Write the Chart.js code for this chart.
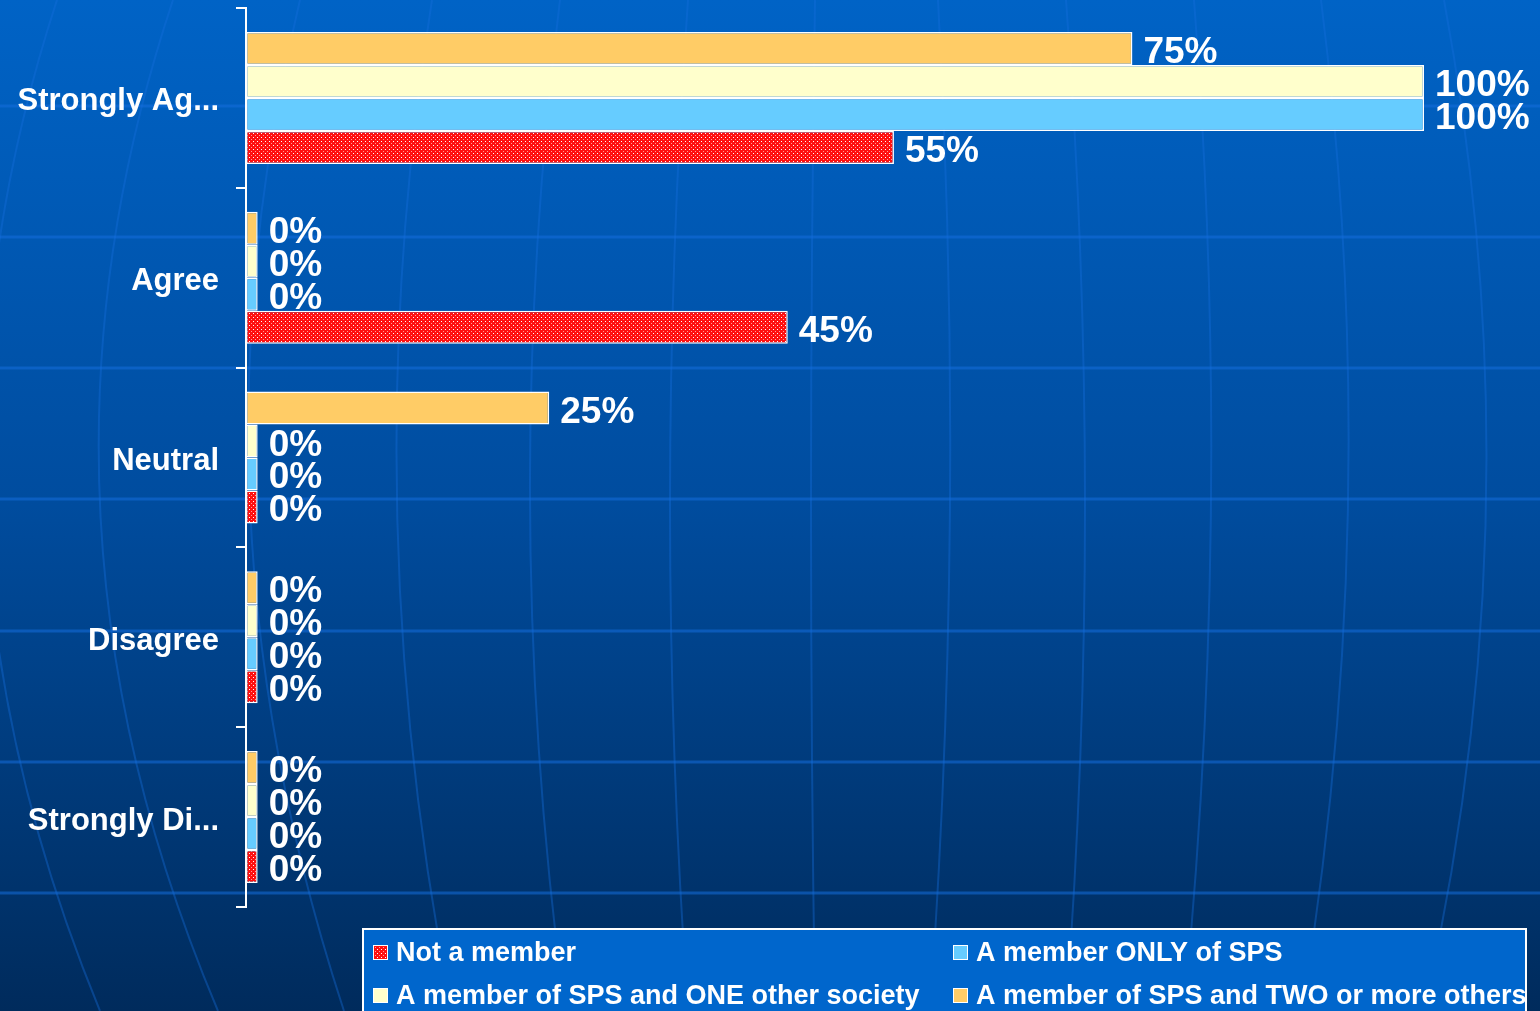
<!DOCTYPE html>
<html lang="en">
<head>
<meta charset="UTF-8">
<title>SPS membership</title>
<script src="https://cdn.jsdelivr.net/npm/chart.js@4.4.1/dist/chart.umd.min.js"></script>
<style>
  body { margin: 0; background: #00306a; }
  canvas { display: block; }
</style>
</head>
<body>
<canvas id="chart" width="1540" height="1011"></canvas>
<script>
// categories as shown on the axis (already cut off in the original)
const categories = ['Strongly Ag...', 'Agree', 'Neutral', 'Disagree', 'Strongly Di...'];

// series, top to bottom inside each group
const twoOrMore = [75, 0, 25, 0, 0];
const oneOther  = [100, 0, 0, 0, 0];
const onlySps   = [100, 0, 0, 0, 0];
const notMember = [54.55, 45.45, 0, 0, 0];

const seriesNames = [
  'A member of SPS and TWO or more others',
  'A member of SPS and ONE other society',
  'A member ONLY of SPS',
  'Not a member'
];

const FONT = '"Liberation Sans", Arial, sans-serif';

// red bars have a dotted fill
function dotPattern() {
  const c = document.createElement('canvas');
  c.width = 4; c.height = 4;
  const g = c.getContext('2d');
  g.fillStyle = '#ff1010';
  g.fillRect(0, 0, 4, 4);
  g.fillStyle = '#ffffff';
  g.fillRect(1, 1, 1, 1);
  g.fillStyle = '#ff9a9a';
  g.fillRect(3, 3, 1, 1);
  return g.createPattern(c, 'repeat');
}
const redFill = dotPattern();

// background: blue gradient with a faint globe grid
const globe = {
  id: 'globe',
  beforeDraw(chart) {
    const ctx = chart.ctx, w = chart.width, h = chart.height;
    ctx.save();
    const grad = ctx.createLinearGradient(0, 0, 0, h);
    grad.addColorStop(0, '#0063c6');
    grad.addColorStop(0.5, '#004c9e');
    grad.addColorStop(1, '#002b5c');
    ctx.fillStyle = grad;
    ctx.fillRect(0, 0, w, h);

    ctx.strokeStyle = 'rgba(20,110,220,0.55)';
    ctx.lineWidth = 3;
    [106, 237, 368, 499, 631, 762, 893].forEach(y => {
      ctx.beginPath(); ctx.moveTo(0, y); ctx.lineTo(w, y); ctx.stroke();
    });
    ctx.strokeStyle = 'rgba(20,110,220,0.38)';
    ctx.lineWidth = 2;
    // top x, middle x, bottom x
    [[57, -15, 100], [173, 100, 218], [300, 250, 344], [432, 397, 452],
     [560, 530, 565], [688, 670, 688], [815, 811, 815], [938, 950, 930],
     [1066, 1085, 1066], [1194, 1211, 1184], [1321, 1348, 1302], [1444, 1486, 1424]
    ].forEach(([t, m, b]) => {
      const cx = 2 * m - (t + b) / 2;
      ctx.beginPath();
      ctx.moveTo(t, 0);
      ctx.quadraticCurveTo(cx, h / 2, b, h);
      ctx.stroke();
    });
    ctx.restore();
  }
};

const valueLabels = {
  id: 'valueLabels',
  afterDatasetsDraw(chart) {
    const ctx = chart.ctx;
    ctx.save();
    ctx.font = 'bold 37px ' + FONT;
    ctx.fillStyle = '#fff';
    ctx.textBaseline = 'alphabetic';
    chart.data.datasets.forEach((ds, i) => {
      chart.getDatasetMeta(i).data.forEach((bar, j) => {
        ctx.fillText(Math.round(ds.data[j]) + '%', bar.x + 11, bar.y + 14.5);
      });
    });
    ctx.restore();
  }
};

// legend in two columns inside a boxed panel
const boxLegend = {
  id: 'boxLegend',
  afterDraw(chart) {
    const ctx = chart.ctx;
    const items = chart.data.datasets.slice().reverse();
    ctx.save();
    ctx.fillStyle = '#0066cc';
    ctx.fillRect(363, 929, 1163, 90);
    ctx.strokeStyle = '#fff';
    ctx.lineWidth = 2;
    ctx.strokeRect(363, 929, 1163, 90);
    ctx.font = 'bold 27px ' + FONT;
    ctx.textBaseline = 'middle';
    items.forEach((ds, i) => {
      const x = i % 2 === 0 ? 373 : 953;
      const y = i < 2 ? 952 : 995;
      ctx.fillStyle = ds.backgroundColor;
      ctx.fillRect(x, y - 7, 15, 15);
      ctx.strokeStyle = '#fff';
      ctx.lineWidth = 1;
      ctx.strokeRect(x + 0.5, y - 6.5, 14, 14);
      ctx.fillStyle = '#fff';
      ctx.fillText(ds.label, x + 23, y + 2);
    });
    ctx.restore();
  }
};

const colours = ['#ffcc66', '#ffffcc', '#66ccff', redFill];
const values = [twoOrMore, oneOther, onlySps, notMember];

new Chart(document.getElementById('chart'), {
  type: 'bar',
  data: {
    labels: categories,
    datasets: values.map((v, i) => ({
      label: seriesNames[i],
      data: v,
      base: -1,
      backgroundColor: colours[i],
      borderColor: '#ffffff',
      borderWidth: 1.5,
      borderSkipped: false,
      barPercentage: 1,
      categoryPercentage: 0.734
    }))
  },
  options: {
    indexAxis: 'y',
    responsive: false,
    animation: false,
    layout: { padding: { top: 8, right: 116, bottom: 104, left: 0 } },
    plugins: {
      legend: { display: false },
      tooltip: { enabled: false }
    },
    scales: {
      x: { type: 'linear', min: -1, max: 100, display: false },
      y: {
        afterFit(scale) {
          scale.width = 246;
          scale.paddingTop = 0;
          scale.paddingBottom = 0;
        },
        grid: { drawOnChartArea: false, color: '#fff', lineWidth: 2, tickLength: 10 },
        border: { color: '#fff', width: 2 },
        ticks: { color: '#fff', padding: 17, labelOffset: 4, font: { family: FONT, size: 31, weight: 'bold' } }
      }
    }
  },
  plugins: [globe, valueLabels, boxLegend]
});
</script>
</body>
</html>
